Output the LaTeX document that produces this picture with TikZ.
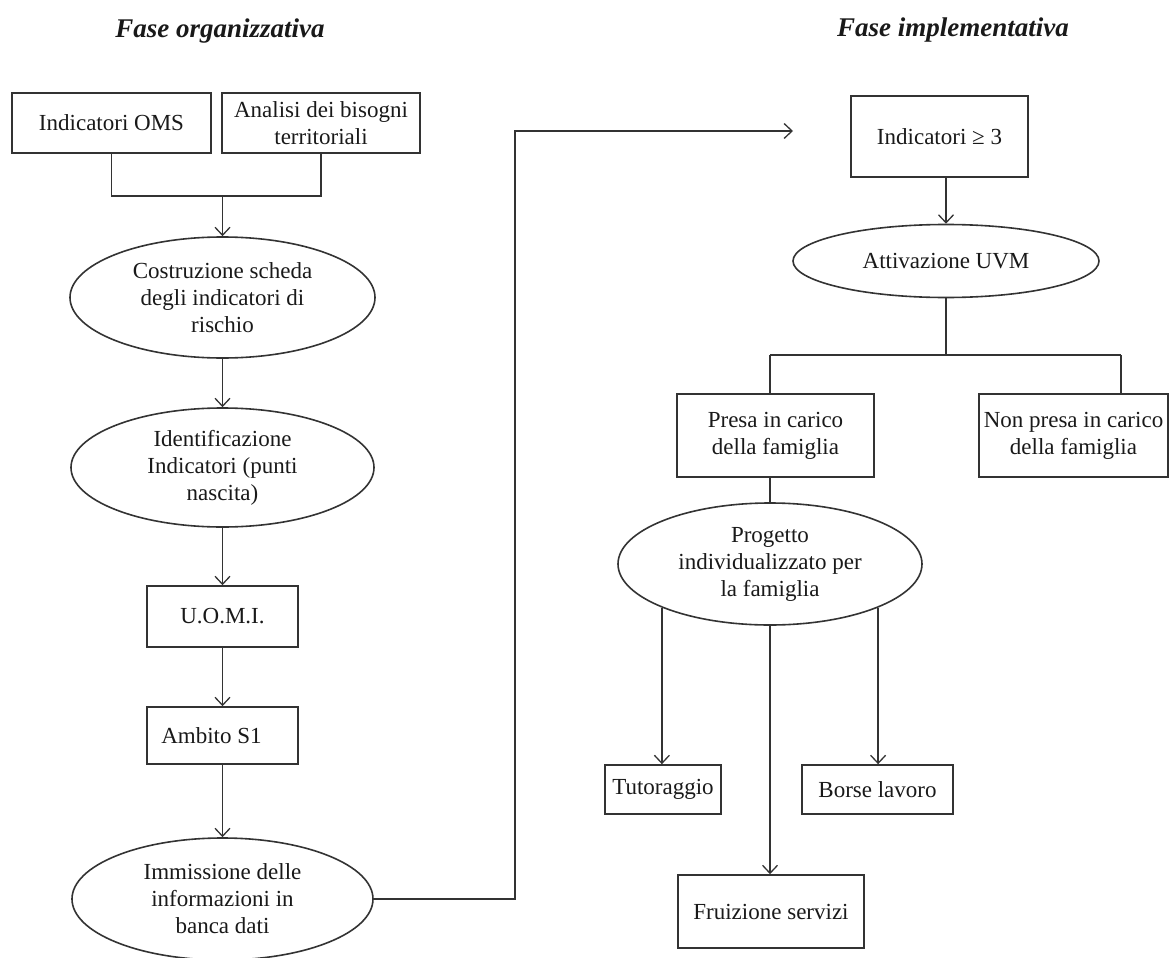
\documentclass[tikz,border=0pt]{standalone}
\usepackage{fontspec}
\setmainfont{Liberation Serif}
\usetikzlibrary{arrows.meta,shapes.geometric,calc}
\begin{document}
\begin{tikzpicture}[x=1pt,y=-1pt,
  every node/.style={font=\fontsize{23}{27}\selectfont, text=black!90},
  box/.style={draw=black!80, line width=1.6pt, rectangle, inner sep=0pt, align=center},
  oval/.style={draw=black!80, line width=1.6pt, ellipse, inner sep=0pt, align=center},
  link/.style={draw=black!80, line width=1.6pt},
  arr/.style={link, -{Straight Barb[length=8pt,width=15pt,line width=1.3pt]}},
  phase/.style={font=\fontsize{27}{32}\selectfont\bfseries\itshape}
]
\useasboundingbox (0,0) rectangle (1170,958);

% phase headings
\node[phase] (t1) at (220,31) {Fase organizzativa};
\node[phase] (t2) at (953,30) {Fase implementativa};

% organisational phase
\node[box, minimum width=199pt, minimum height=60pt] (oms) at (111.5,123) {Indicatori OMS};
\node[box, minimum width=198pt, minimum height=60pt] (ana) at (321,123) {Analisi dei bisogni\\territoriali};
\node[oval, minimum width=305pt, minimum height=121pt] (scheda) at (222.5,297.5) {Costruzione scheda\\degli indicatori di\\rischio};
\node[oval, minimum width=303pt, minimum height=119pt] (ident) at (222.5,467.5) {Identificazione\\Indicatori (punti\\nascita)};
\node[box, minimum width=151pt, minimum height=61pt] (uomi) at (222.5,616.5) {U.O.M.I.};
\node[box, minimum width=151pt, minimum height=57pt] (ambito) at (222.5,735.5) {\hbox{Ambito S1\kern22pt}};
\node[oval, minimum width=301pt, minimum height=122pt] (immis) at (222.5,899) {Immissione delle\\informazioni in\\banca dati};

% implementation phase
\node[box, minimum width=177pt, minimum height=81pt] (ind) at (939.5,136.5) {Indicatori ≥ 3};
\node[oval, minimum width=306pt, minimum height=73pt] (uvm) at (946,261) {Attivazione UVM};
\node[box, minimum width=197pt, minimum height=83pt] (presa) at (775.5,435.5) {Presa in carico\\della famiglia};
\node[box, minimum width=189pt, minimum height=83pt] (nonpresa) at (1073.5,435.5) {Non presa in carico\\della famiglia};
\node[oval, minimum width=304pt, minimum height=122pt] (prog) at (770,564) {Progetto\\individualizzato per\\la famiglia};
\node[box, minimum width=116pt, minimum height=49pt] (tutor) at (663,789.5) {Tutoraggio};
\node[box, minimum width=151pt, minimum height=49pt] (borse) at (877.5,789.5) {Borse lavoro};
\node[box, minimum width=186pt, minimum height=73pt] (fruiz) at (771,911.5) {Fruizione servizi};

% junction points
\coordinate (j1) at (222.5,196);
\coordinate (bend) at (515,131);
\coordinate (tip) at (793,131);
\coordinate (jl) at (770,355);
\coordinate (jr) at (1121,355);

% connectors, organisational phase
\draw[link] (oms.south) |- (j1);
\draw[link] (ana.south) |- (j1);
\draw[arr] (j1) -- (scheda.north);
\draw[arr] (scheda.south) -- (ident.north);
\draw[arr] (ident.south) -- (uomi.north);
\draw[arr] (uomi.south) -- (ambito.north);
\draw[arr] (ambito.south) -- (immis.north);
\draw[arr] (immis.east) -| (bend) -- (tip);

% connectors, implementation phase
\draw[arr] (ind.south -| uvm.north) -- (uvm.north);
\draw[link] (uvm.south) -- (uvm.south |- jl);
\draw[link] (jl) -- (jr);
\draw[link] (jl) -- (jl |- presa.north);
\draw[link] (jr) -- (jr |- nonpresa.north);
\draw[link] (presa.south -| prog.north) -- (prog.north);
\draw[arr] (prog.-158) -- (prog.-158 |- tutor.north);
\draw[arr] (prog.-22) -- (prog.-22 |- borse.north);
\draw[arr] (prog.south) -- (prog.south |- fruiz.north);
\end{tikzpicture}
\end{document}
